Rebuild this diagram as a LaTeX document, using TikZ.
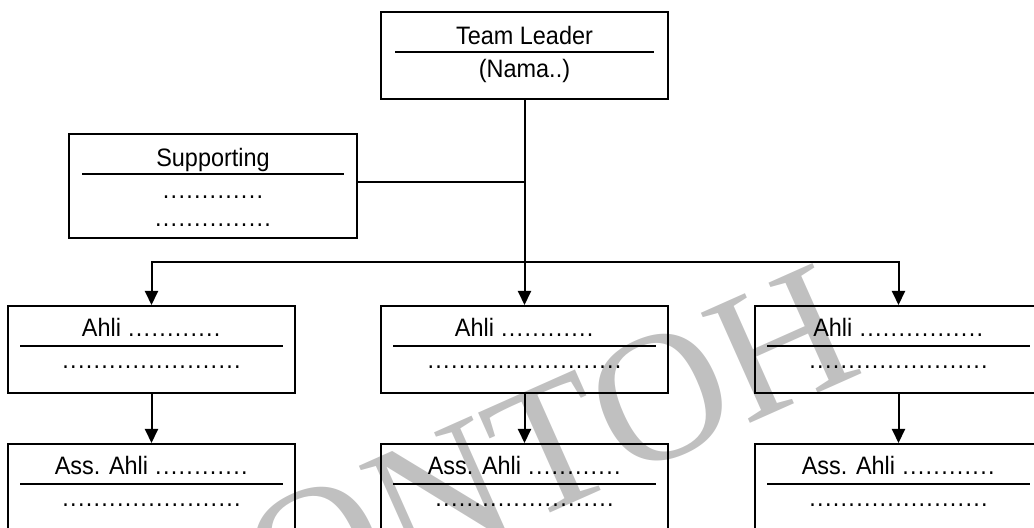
\documentclass[tikz,border=0pt]{standalone}
\usepackage{fontspec}
\setmainfont{Liberation Sans}[FakeStretch=0.93]
\newfontfamily\stampfont{Liberation Serif}
\usetikzlibrary{arrows.meta}
\definecolor{stampgray}{RGB}{192,192,192}
\newlength\dotstep
\setlength\dotstep{3.9pt}
\newcommand\titik[1]{\hbox to #1\dotstep{\xleaders\hbox to \dotstep{\hss.\hss}\hfil}}
\tikzset{
  orgbox/.style={draw, line width=1pt, minimum width=143.5pt, minimum height=43.5pt, inner sep=0pt},
  label/.style={anchor=base, inner sep=0pt, font=\fontsize{12.6pt}{15pt}\selectfont},
  rule/.style={line width=1pt},
  link/.style={line width=1pt},
  arr/.style={link, -{Triangle[length=7pt,width=6.5pt]}},
  stamp/.style={text=stampgray, inner sep=0pt, font=\stampfont\fontsize{92pt}{92pt}\selectfont}
}

\begin{document}
\begin{tikzpicture}[x=0.5pt,y=-0.5pt]
      \useasboundingbox (0,0) rectangle (1034,528);
      \clip (0,0) rectangle (1034,528);
      % watermark behind everything
      \node[stamp, rotate=24] (stamp) at (494,472) {CONTOH};
      % boxes
      \node[orgbox] (lead) at (524.5,55.5) {};
      \node[orgbox, minimum width=144pt, minimum height=52pt] (supp) at (213,186) {};
      \node[orgbox] (ahliA) at (151.5,349.5) {};
      \node[orgbox] (ahliB) at (524.5,349.5) {};
      \node[orgbox] (ahliC) at (898.5,349.5) {};
      \node[orgbox, minimum height=52pt] (assA) at (151.5,496) {};
      \node[orgbox, minimum height=52pt] (assB) at (524.5,496) {};
      \node[orgbox, minimum height=52pt] (assC) at (898.5,496) {};
      % team leader
      \node[label] (leadtitle) at (524.5,45) {Team Leader};
      \draw[rule] ([shift={(15,41)}]lead.north west) -- ([shift={(-15,41)}]lead.north east);
      \node[label] (leadname) at (524.5,78) {(Nama..)};
      % supporting
      \node[label] (supptitle) at (213,167) {Supporting};
      \draw[rule] ([shift={(14,41)}]supp.north west) -- ([shift={(-14,41)}]supp.north east);
      \node[label] (suppa) at (213,199) {\titik{13}};
      \node[label] (suppb) at (213,227) {\titik{15}};
      % ahli
      \node[label] (ahliAtitle) at (151.5,337) {Ahli \titik{12}};
      \node[label] (ahliBtitle) at (524.5,337) {Ahli \titik{12}};
      \node[label] (ahliCtitle) at (898.5,337) {Ahli \titik{16}};
      \draw[rule] ([shift={(13,41)}]ahliA.north west) -- ([shift={(-13,41)}]ahliA.north east);
      \draw[rule] ([shift={(13,41)}]ahliB.north west) -- ([shift={(-13,41)}]ahliB.north east);
      \draw[rule] ([shift={(13,41)}]ahliC.north west) -- ([shift={(-13,41)}]ahliC.north east);
      \node[label] (ahliAname) at (151.5,369) {\titik{23}};
      \node[label] (ahliBname) at (524.5,369) {\titik{25}};
      \node[label] (ahliCname) at (898.5,369) {\titik{23}};
      % ass. ahli
      \node[label] (assAtitle) at (151.5,475) {Ass. Ahli \titik{12}};
      \node[label] (assBtitle) at (524.5,475) {Ass. Ahli \titik{12}};
      \node[label] (assCtitle) at (898.5,475) {Ass. Ahli \titik{12}};
      \draw[rule] ([shift={(13,41)}]assA.north west) -- ([shift={(-13,41)}]assA.north east);
      \draw[rule] ([shift={(13,41)}]assB.north west) -- ([shift={(-13,41)}]assB.north east);
      \draw[rule] ([shift={(13,41)}]assC.north west) -- ([shift={(-13,41)}]assC.north east);
      \node[label] (assAname) at (151.5,507) {\titik{23}};
      \node[label] (assBname) at (524.5,507) {\titik{23}};
      \node[label] (assCname) at (898.5,507) {\titik{23}};
      % connectors
      \coordinate (join) at (524.5,182);
      \coordinate (bus) at (524.5,262);
      \draw[link] (supp.east |- join) -- (join);
      \draw[arr] (lead.south) -- (ahliB.north);
      \draw[arr] (bus) -| (ahliA.north);
      \draw[arr] (bus) -| (ahliC.north);
      \draw[arr] (ahliA.south) -- (assA.north);
      \draw[arr] (ahliB.south) -- (assB.north);
      \draw[arr] (ahliC.south) -- (assC.north);
\end{tikzpicture}
\end{document}
